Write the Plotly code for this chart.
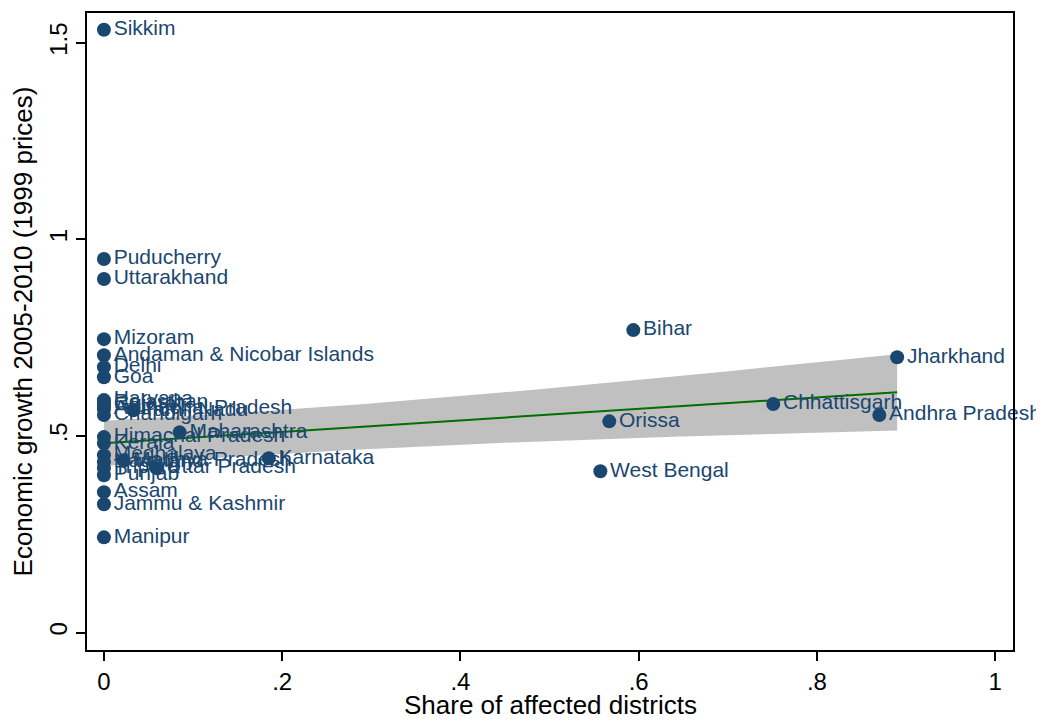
import numpy as np
import plotly.graph_objects as go

states = ["Sikkim", "Puducherry", "Uttarakhand", "Mizoram", "Andaman & Nicobar Islands", "Delhi", "Goa",
          "Haryana", "Gujarat", "Arunachal Pradesh", "Chandigarh", "Tamil Nadu", "Himachal Pradesh", "Kerala",
          "Maharashtra", "Meghalaya", "Nagaland", "Tripura", "Punjab", "Madhya Pradesh", "Uttar Pradesh",
          "Karnataka", "Assam", "Jammu & Kashmir", "Manipur", "Bihar", "Jharkhand", "Chhattisgarh",
          "Andhra Pradesh", "Orissa", "West Bengal", "Rajasthan"]
share = [0, 0, 0, 0, 0, 0, 0,
         0, 0, 0, 0, 0.033, 0, 0,
         0.085, 0, 0, 0, 0, 0.022, 0.059,
         0.185, 0, 0, 0, 0.594, 0.890, 0.751,
         0.870, 0.567, 0.557, 0]
growth = [1.533, 0.950, 0.899, 0.746, 0.705, 0.675, 0.649,
          0.591, 0.578, 0.568, 0.553, 0.565, 0.497, 0.481,
          0.509, 0.451, 0.433, 0.418, 0.400, 0.438, 0.418,
          0.443, 0.357, 0.326, 0.242, 0.769, 0.700, 0.581,
          0.553, 0.537, 0.410, 0.585]

x_title = "Share of affected districts"
y_title = "Economic growth 2005-2010 (1999 prices)"

# fitted line and 95% CI half-widths (at x = 0 and at x = max share)
fit_intercept = 0.481
fit_slope = 0.146
ci_half_at_min = 0.0575
ci_half_at_max = 0.097

x = np.array(share, dtype=float)
xm = x.mean()
x0, x1 = x.min(), x.max()
# hyperbolic CI shape: h(x)^2 = A + B (x - xm)^2, solved from the two read half-widths
B = (ci_half_at_max ** 2 - ci_half_at_min ** 2) / ((x1 - xm) ** 2 - (x0 - xm) ** 2)
A = ci_half_at_min ** 2 - B * (x0 - xm) ** 2
xg = np.linspace(x0, x1, 100)
yg = fit_intercept + fit_slope * xg
h = np.sqrt(A + B * (xg - xm) ** 2)
lo = yg - h
hi = yg + h

navy = "#1a476f"
fig = go.Figure()
fig.add_trace(go.Scatter(x=np.concatenate([xg, xg[::-1]]), y=np.concatenate([hi, lo[::-1]]),
                         fill="toself", fillcolor="#c0c0c0", line=dict(width=0), mode="lines",
                         hoverinfo="skip", showlegend=False))
fig.add_trace(go.Scatter(x=xg, y=yg, mode="lines", line=dict(color="#006e00", width=2), showlegend=False))
fig.add_trace(go.Scatter(x=share, y=growth, mode="markers+text", text=states, textposition="middle right",
                         textfont=dict(color=navy, size=21, family="Liberation Sans"),
                         marker=dict(color=navy, size=14), showlegend=False, cliponaxis=False))

fig.update_layout(
    width=1044, height=721, plot_bgcolor="white", paper_bgcolor="white",
    margin=dict(l=79, r=39, t=5, b=79),
    font=dict(family="Liberation Sans", color="black"),
)
fig.add_annotation(text=x_title, xref="paper", yref="paper", x=0.5, y=0, xanchor="center",
                   yanchor="middle", yshift=-55, showarrow=False, font=dict(size=26, color="black"))
fig.update_xaxes(range=[-0.019, 1.020], tickvals=[0, 0.2, 0.4, 0.6, 0.8, 1],
                 ticktext=["0", ".2", ".4", ".6", ".8", "1"], ticks="outside", ticklen=9,
                 tickcolor="black", tickwidth=1.5, showline=True, linecolor="black", linewidth=1.5, mirror=True,
                 showgrid=False, zeroline=False, tickfont=dict(size=24), automargin=False)
fig.update_yaxes(range=[-0.0445, 1.5755], tickvals=[0, 0.5, 1, 1.5],
                 ticktext=["0", ".5", "1", "1.5"], ticks="outside", ticklen=9, tickangle=-90,
                 tickcolor="black", tickwidth=1.5, showline=True, linecolor="black", linewidth=1.5, mirror=True,
                 showgrid=False, zeroline=False, tickfont=dict(size=24), automargin=False,
                 title=dict(text=y_title, font=dict(size=26)))
fig.write_html("out.html")
